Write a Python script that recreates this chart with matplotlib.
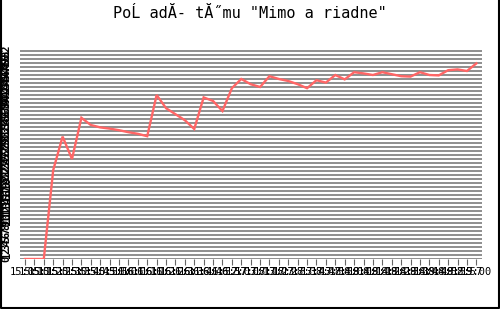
import numpy as np
from matplotlib import pyplot as plt
from matplotlib.lines import Line2D

# team rank over the evening, one sample per tick
times = ['15:05', '15:10', '15:15', '15:20', '15:25', '15:30', '15:35', '15:40',
         '15:45', '15:51', '15:56', '16:01', '16:06', '16:11', '16:16', '16:21',
         '16:26', '16:31', '16:36', '16:41', '16:46', '16:52', '16:57', '17:03',
         '17:08', '17:13', '17:18', '17:23', '17:28', '17:33', '17:38', '17:43',
         '17:48', '17:54', '17:59', '18:04', '18:09', '18:14', '18:19', '18:24',
         '18:29', '18:34', '18:39', '18:44', '18:49', '18:52', '18:55', '18:57',
         '19:00']
rank = [0, 0, 0, 22.2, 30.6, 25.0, 35.3, 33.5, 32.9, 32.6, 32.2, 31.7, 31.3,
        30.7, 41.0, 37.7, 36.2, 34.7, 32.5, 40.4, 39.5, 37.0, 42.7, 45.0, 43.7,
        43.0, 45.7, 45.0, 44.5, 43.7, 42.7, 44.7, 44.1, 46.0, 44.9, 46.7, 46.4,
        46.0, 46.7, 46.2, 45.7, 45.6, 46.7, 46.0, 45.9, 47.2, 47.4, 47.0, 48.9]
y_levels = list(range(0, 53))

fig = plt.figure(figsize=(5, 3.09), dpi=100)
ax = fig.add_axes([20 / 500, 1 - 259 / 309, 462 / 500, 209 / 309])

x = np.arange(len(times))
ax.plot(x, rank, color='#ff6666', linewidth=1.7, zorder=3, solid_joinstyle='miter')

ax.set_xlim(-0.53, 48.6)
ax.set_ylim(0, 52.25)

# dense horizontal grid, one line per level
ax.set_yticks(y_levels)
ax.set_yticklabels([str(v) for v in y_levels], rotation=90, va='center',
                   fontsize=7.5, family='DejaVu Sans Mono', fontweight='bold')
ax.yaxis.grid(True, color='#707070', linewidth=1.1)
ax.tick_params(axis='y', length=0, pad=6)

# one label per sample, they run into each other like in the original
ax.set_xticks(x)
ax.set_xticklabels(times, fontsize=7.5, family='DejaVu Sans Mono')
ax.tick_params(axis='x', length=4, width=0.8, color='#666666', pad=2)

for s in ax.spines.values():
    s.set_visible(False)

fig.text(0.5, 1 - 13 / 309, 'PoĹ adĂ- tĂ˝mu "Mimo a riadne"', ha='center',
         va='center', fontsize=11, family='DejaVu Sans Mono')

# black frame round the picture (left, right, bottom)
fig.add_artist(Line2D([0.5 / 500, 0.5 / 500, 498.5 / 500, 498.5 / 500],
                      [1, 1.5 / 309, 1.5 / 309, 1], transform=fig.transFigure,
                      color='black', linewidth=1.5))

fig.savefig('out.png', dpi=100, facecolor='white')
